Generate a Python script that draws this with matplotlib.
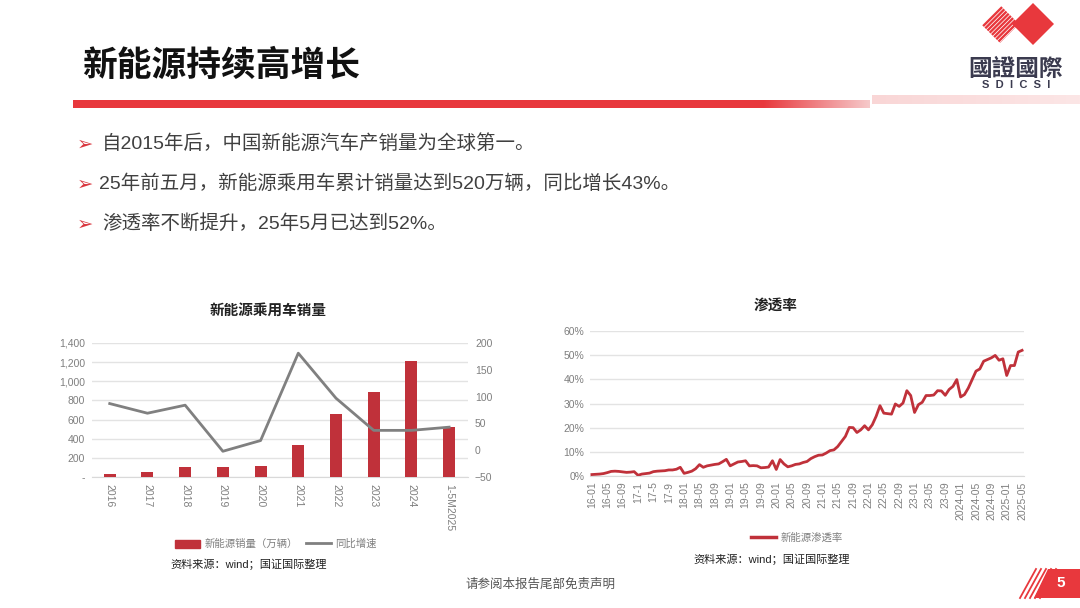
import matplotlib
matplotlib.use("Agg")
import matplotlib.pyplot as plt
import numpy as np
from matplotlib.patches import Rectangle, Polygon
from matplotlib.lines import Line2D
from matplotlib.ticker import FuncFormatter, MultipleLocator
from matplotlib.colors import LinearSegmentedColormap

plt.rcParams['font.family'] = ['Liberation Sans', 'Noto Sans CJK SC', 'DejaVu Sans']

# ---- data ----
years = ['2016', '2017', '2018', '2019', '2020', '2021', '2022', '2023', '2024', '1-5M2025']
sales = [35, 56, 105, 104, 118, 330, 655, 887, 1215, 520]        # 万辆
yoy = [87, 69, 84, -2, 18, 181, 97, 37, 37, 43]                   # %

pen_2016 = [0.6, 0.7, 0.8, 1.0, 1.4, 1.9, 2.0, 1.9, 1.7, 1.5, 1.6, 1.8]
pen_2017 = [0.3, 0.8, 1.0, 1.2, 1.8, 2.0, 2.1, 2.2, 2.5, 2.5, 2.8, 3.6]
pen_2018 = [1.1, 1.5, 2.0, 3.0, 4.7, 3.6, 4.2, 4.5, 4.8, 5.0, 5.9, 6.9]
pen_2019 = [4.2, 5.0, 5.8, 6.0, 6.3, 4.2, 4.3, 4.2, 3.4, 3.5, 3.7, 6.3]
pen_2020 = [2.7, 6.8, 5.0, 3.8, 4.2, 4.8, 5.0, 5.6, 6.0, 7.2, 8.0, 8.6]
pen_2021 = [8.7, 9.5, 10.5, 10.8, 12.2, 14.3, 16.4, 20.1, 20.0, 18.0, 19.1, 20.8]
pen_2022 = [19.1, 21.2, 24.7, 29.1, 26.0, 25.8, 25.6, 29.8, 28.8, 30.2, 35.3, 33.3]
pen_2023 = [26.3, 29.5, 30.5, 33.3, 33.3, 33.5, 35.3, 35.2, 33.4, 35.8, 37.1, 39.9]
pen_2024 = [32.7, 33.7, 36.4, 39.9, 43.4, 44.3, 47.5, 48.2, 48.9, 49.9, 47.9, 48.5]
pen_2025 = [41.6, 45.7, 45.7, 51.3, 52.0]
penetration = pen_2016 + pen_2017 + pen_2018 + pen_2019 + pen_2020 + pen_2021 + pen_2022 + pen_2023 + pen_2024 + pen_2025

month_labels = ['16-01', '16-05', '16-09', '17-1', '17-5', '17-9', '18-01', '18-05', '18-09',
                '19-01', '19-05', '19-09', '20-01', '20-05', '20-09', '21-01', '21-05', '21-09',
                '22-01', '22-05', '22-09', '23-01', '23-05', '23-09', '2024-01', '2024-05',
                '2024-09', '2025-01', '2025-05']

bullets = ['自2015年后，中国新能源汽车产销量为全球第一。',
           '25年前五月，新能源乘用车累计销量达到520万辆，同比增长43%。',
           '渗透率不断提升，25年5月已达到52%。']

RED = '#E8383D'
BAR = '#C0313A'
GRAY_TXT = '#7F7F7F'

fig = plt.figure(figsize=(10.8, 6.08), dpi=100)

# ---- slide decorations (pixel coords) ----
bg = fig.add_axes([0, 0, 1, 1])
bg.axis('off')

bg.text(82, 65, '新能源持续高增长', fontsize=25, fontweight='bold', color='#111111',
        va='center', ha='left', family=['Noto Sans CJK SC'])

# red bar with fade
bg.add_patch(Rectangle((73, 100), 690, 8, color=RED, lw=0))
grad = np.linspace(0, 1, 200).reshape(1, -1)
fade = LinearSegmentedColormap.from_list('fade', [RED, '#F6C9CA'])
bg.imshow(grad, cmap=fade, extent=(763, 870, 108, 100), aspect='auto', zorder=1)
pink = LinearSegmentedColormap.from_list('pink', ['#F9D6D6', '#FCE6E6'])
bg.imshow(grad, cmap=pink, extent=(872, 1080, 104, 95), aspect='auto', zorder=1)
bg.set_xlim(0, 1080)
bg.set_ylim(608, 0)

# logo
bg.add_patch(Polygon([(1033, 3), (1054, 24), (1033, 45), (1012, 24)], closed=True, color=RED, lw=0))
clip_d = Polygon([(1000, 5), (1019, 24), (1000, 43), (981, 24)], closed=True, transform=bg.transData,
                 fill=False, lw=0)
bg.add_patch(clip_d)
for k in range(-2, 12):
    x0 = 972 + k * 4.4
    ln, = bg.plot([x0, x0 + 42], [46, 4], color=RED, lw=1.7)
    ln.set_clip_path(clip_d)
bg.text(1016, 69, '國證國際', fontsize=17, fontweight='bold', color='#3B3B4F', ha='center', va='center',
        family=['Noto Sans CJK TC'])
bg.text(1016, 85, 'S  D  I  C  S  I', fontsize=8, fontweight='bold', color='#3B3B4F', ha='center', va='center')

# bullets
for i, t in enumerate(bullets):
    y = 144 + 40 * i
    bg.text(77, y, '➢', fontsize=14, color='#D9363E', va='center', ha='left', family=['DejaVu Sans'])
    bg.text(102 if i != 1 else 99, y, t, fontsize=14, color='#404040', va='center', ha='left')

# footer
bg.text(540, 584, '请参阅本报告尾部免责声明', fontsize=9, color='#555555', ha='center', va='center',
        family=['Noto Sans CJK SC'])
bg.add_patch(Polygon([(1048, 569), (1080, 569), (1080, 598), (1034, 598)], closed=True, color=RED, lw=0))
for k in range(5):
    x0 = 1020 + k * 5
    bg.plot([x0, x0 + 16], [598, 569], color=RED, lw=1.3)
bg.text(1061, 583, '5', fontsize=11, fontweight='bold', color='white', ha='center', va='center')

# ---- left chart ----
ax1 = fig.add_axes([92 / 1080, 1 - 477 / 608, 376 / 1080, 134 / 608])
x = np.arange(len(years))
ax1.bar(x, sales, width=0.32, color=BAR, zorder=3)
ax1.set_ylim(0, 1400)
ax1.set_xlim(-0.47, 9.5)
ax1.yaxis.set_major_locator(MultipleLocator(200))
ax1.yaxis.set_major_formatter(FuncFormatter(lambda v, p: '-' if v == 0 else f'{int(v):,}'))
ax1.grid(axis='y', color='#E3E3E3', lw=1, zorder=0)
ax1.set_xticks(x)
ax1.set_xticklabels(years, rotation=270)
ax1.tick_params(length=0, labelsize=7.5, colors=GRAY_TXT, pad=5)
for s in ax1.spines.values():
    s.set_visible(False)
ax1.spines['bottom'].set_visible(True)
ax1.spines['bottom'].set_color('#D9D9D9')

ax1b = ax1.twinx()
ax1b.plot(x, yoy, color='#808080', lw=2, zorder=4)
ax1b.set_ylim(-50, 200)
ax1b.yaxis.set_major_locator(MultipleLocator(50))
ax1b.tick_params(length=0, labelsize=7.5, colors=GRAY_TXT, pad=5)
for s in ax1b.spines.values():
    s.set_visible(False)

fig.text(268 / 1080, 1 - 310 / 608, '新能源乘用车销量', fontsize=10.5, fontweight='bold', ha='center',
         va='center', color='#222222', family=['Noto Sans CJK SC'])
h1 = [Rectangle((0, 0), 1, 1, color=BAR), Line2D([0], [0], color='#808080', lw=2)]
fig.legend(h1, ['新能源销量（万辆）', '同比增速'], loc='center', bbox_to_anchor=(276 / 1080, 1 - 544 / 608),
           ncol=2, frameon=False, fontsize=7.5, labelcolor=GRAY_TXT, handlelength=2.4, handleheight=0.8,
           columnspacing=0.8, handletextpad=0.4)
fig.text(170 / 1080, 1 - 564 / 608, '资料来源：wind；国证国际整理', fontsize=8, ha='left', va='center',
         color='#222222')

# ---- right chart ----
ax2 = fig.add_axes([590 / 1080, 1 - 476 / 608, 434 / 1080, 145 / 608])
m = np.arange(len(penetration))
ax2.plot(m, penetration, color=BAR, lw=2, zorder=3)
ax2.set_ylim(0, 60)
ax2.set_xlim(-0.5, 112.5)
ax2.yaxis.set_major_locator(MultipleLocator(10))
ax2.yaxis.set_major_formatter(FuncFormatter(lambda v, p: f'{int(v)}%'))
ax2.set_xticks(m[::4])
ax2.set_xticklabels(month_labels, rotation=90)
ax2.grid(axis='y', color='#E3E3E3', lw=1, zorder=0)
ax2.tick_params(length=0, labelsize=7.5, colors=GRAY_TXT, pad=4)
for s in ax2.spines.values():
    s.set_visible(False)
ax2.spines['bottom'].set_visible(True)
ax2.spines['bottom'].set_color('#D9D9D9')

fig.text(776 / 1080, 1 - 305 / 608, '渗透率', fontsize=10.5, fontweight='bold', ha='center', va='center',
         color='#222222', family=['Noto Sans CJK SC'])
fig.legend([Line2D([0], [0], color=BAR, lw=2.5)], ['新能源渗透率'], loc='center',
           bbox_to_anchor=(797 / 1080, 1 - 538 / 608), frameon=False, fontsize=7.5, labelcolor=GRAY_TXT,
           handlelength=2.4, handletextpad=0.4)
fig.text(693 / 1080, 1 - 559 / 608, '资料来源：wind；国证国际整理', fontsize=8, ha='left', va='center',
         color='#222222')

fig.savefig('out.png', dpi=100)
